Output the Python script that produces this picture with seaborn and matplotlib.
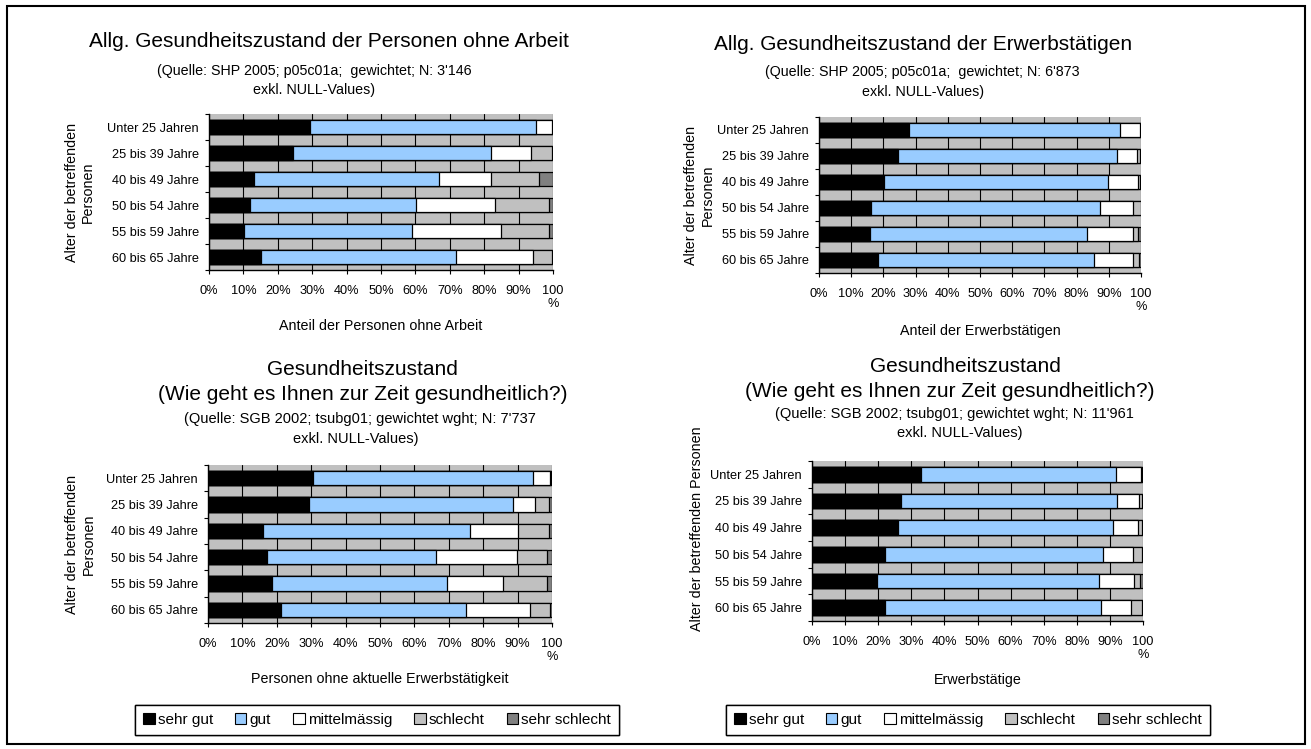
import numpy as np
import pandas as pd
import seaborn as sns
import matplotlib.pyplot as plt
from matplotlib.patches import Patch, Rectangle

altersgruppen = ['Unter 25 Jahren', '25 bis 39 Jahre', '40 bis 49 Jahre',
                 '50 bis 54 Jahre', '55 bis 59 Jahre', '60 bis 65 Jahre']
kategorien = ['sehr gut', 'gut', 'mittelmässig', 'schlecht', 'sehr schlecht']
farben = ['#000000', '#99CCFF', '#FFFFFF', '#C0C0C0', '#808080']

# Anteile in % je Altersgruppe (sehr gut, gut, mittelmässig, schlecht, sehr schlecht)
shp_ohne_arbeit = [
    [29.4, 65.7, 4.7, 0.2, 0.0],
    [24.4, 57.6, 11.5, 6.3, 0.2],
    [13.1, 53.7, 15.3, 13.8, 4.1],
    [11.8, 48.4, 22.8, 15.7, 1.3],
    [10.2, 48.8, 25.8, 14.0, 1.2],
    [15.1, 56.6, 22.6, 5.5, 0.2],
]
shp_erwerbstaetige = [
    [27.8, 65.8, 6.2, 0.2, 0.0],
    [24.5, 68.1, 6.2, 0.8, 0.4],
    [20.1, 69.8, 9.2, 0.7, 0.2],
    [16.3, 71.1, 10.1, 2.4, 0.1],
    [15.9, 67.3, 14.4, 1.4, 1.0],
    [18.3, 67.1, 12.0, 2.1, 0.5],
]
sgb_ohne_erwerb = [
    [30.5, 63.9, 4.9, 0.4, 0.3],
    [29.3, 59.3, 6.5, 4.0, 0.9],
    [16.0, 60.1, 13.9, 9.2, 0.8],
    [17.2, 49.0, 23.6, 8.7, 1.5],
    [18.7, 50.7, 16.4, 12.7, 1.5],
    [21.3, 53.7, 18.7, 5.6, 0.7],
]
sgb_erwerbstaetige = [
    [32.8, 58.9, 7.8, 0.3, 0.2],
    [26.9, 65.3, 6.7, 0.8, 0.3],
    [26.1, 64.8, 7.7, 1.1, 0.3],
    [22.2, 65.6, 9.1, 2.9, 0.2],
    [19.6, 67.2, 10.4, 1.8, 1.0],
    [22.2, 65.0, 9.3, 3.1, 0.4],
]
x_ticks = [0, 10, 20, 30, 40, 50, 60, 70, 80, 90, 100]
x_ticklabels = ['0%', '10%', '20%', '30%', '40%', '50%', '60%', '70%', '80%', '90%', '100\n%']

sns.set_theme(style='white')
plt.rcParams['font.family'] = ['Liberation Sans', 'DejaVu Sans']

W, H = 1311, 749
fig = plt.figure(figsize=(W / 100, H / 100), dpi=100)


def px_rect(l, t, r, b):
    return [l / W, 1 - b / H, (r - l) / W, (b - t) / H]


def fig_text(x, y, s, size):
    fig.text(x / W, 1 - y / H, s, ha='center', va='baseline', fontsize=size, color='black')


def panel(rect, werte, xlabel, ylabel, ylab_xy, xlab_y):
    ax = fig.add_axes(px_rect(*rect))
    df = pd.DataFrame(werte, index=altersgruppen, columns=kategorien)
    kum = df.cumsum(axis=1)
    # gestapelt: kumulierte Summen von hinten nach vorne überlagern
    for kat, farbe in zip(reversed(kategorien), reversed(farben)):
        d = pd.DataFrame({'Alter': altersgruppen, 'Anteil': kum[kat].values})
        sns.barplot(data=d, x='Anteil', y='Alter', orient='h', color=farbe, saturation=1,
                    edgecolor='black', linewidth=0.9, width=0.55, errorbar=None, ax=ax)
    ax.set_facecolor('#C0C0C0')
    ax.set_xlim(0, 100)
    ax.set_ylim(5.5, -0.5)
    ax.set_xticks(x_ticks)
    ax.set_xticklabels(x_ticklabels)
    ax.set_yticks(range(len(altersgruppen)))
    ax.set_yticklabels(altersgruppen)
    ax.set_yticks(np.arange(-0.5, 6, 1), minor=True)
    ax.grid(axis='x', color='black', linewidth=0.8)
    ax.grid(axis='y', visible=False)
    ax.set_axisbelow(True)
    for s in ['top', 'right']:
        ax.spines[s].set_visible(False)
    for s in ['left', 'bottom']:
        ax.spines[s].set_color('black')
        ax.spines[s].set_linewidth(1.0)
    ax.tick_params(axis='x', which='major', bottom=True, direction='out', length=3, width=0.8,
                   color='black', labelsize=9.2, pad=7.5, labelcolor='black')
    ax.tick_params(axis='y', which='major', left=True, length=0, pad=7.2, labelsize=9.2,
                   labelcolor='black')
    ax.tick_params(axis='y', which='minor', left=True, direction='out', length=3, width=0.8,
                   color='black')
    ax.set_xlabel(xlabel, fontsize=10.3, color='black')
    ax.xaxis.set_label_coords(0.5, xlab_y)
    ax.xaxis.label.set_va('baseline')
    ax.set_ylabel(ylabel, fontsize=10.3, color='black', linespacing=1.25)
    ax.yaxis.set_label_coords(*ylab_xy)
    ax.yaxis.label.set_va('center')
    return ax


panel((209, 114, 553, 270), shp_ohne_arbeit, 'Anteil der Personen ohne Arbeit',
      'Alter der betreffenden\nPersonen', (-0.375, 0.5), -60 / 156)
panel((819, 117, 1141, 273), shp_erwerbstaetige, 'Anteil der Erwerbstätigen',
      'Alter der betreffenden\nPersonen', (-0.370, 0.5), -62 / 156)
panel((208, 465, 552, 623), sgb_ohne_erwerb, 'Personen ohne aktuelle Erwerbstätigkeit',
      'Alter der betreffenden\nPersonen', (-0.372, 0.5), -60 / 158)
panel((812, 461, 1143, 621), sgb_erwerbstaetige, 'Erwerbstätige',
      'Alter der betreffenden Personen', (-0.347, 0.58), -63 / 160)

# Titel
fig_text(329, 47, 'Allg. Gesundheitszustand der Personen ohne Arbeit', 15)
fig_text(314, 75, "(Quelle: SHP 2005; p05c01a;  gewichtet; N: 3'146", 10.3)
fig_text(314, 94, 'exkl. NULL-Values)', 10.3)

fig_text(923, 50, 'Allg. Gesundheitszustand der Erwerbstätigen', 15)
fig_text(922, 76, "(Quelle: SHP 2005; p05c01a;  gewichtet; N: 6'873", 10.3)
fig_text(923, 96, 'exkl. NULL-Values)', 10.3)

fig_text(362, 375, 'Gesundheitszustand', 15)
fig_text(363, 400, '(Wie geht es Ihnen zur Zeit gesundheitlich?)', 15)
fig_text(360, 423, "(Quelle: SGB 2002; tsubg01; gewichtet wght; N: 7'737", 10.5)
fig_text(356, 443, 'exkl. NULL-Values)', 10.5)

fig_text(965, 372, 'Gesundheitszustand', 15)
fig_text(950, 397, '(Wie geht es Ihnen zur Zeit gesundheitlich?)', 15)
fig_text(954, 418, "(Quelle: SGB 2002; tsubg01; gewichtet wght; N: 11'961", 10.5)
fig_text(960, 437, 'exkl. NULL-Values)', 10.5)

# Legenden
handles = [Patch(facecolor=f, edgecolor='black', linewidth=0.8) for f in farben]
for cx in [377, 968]:
    leg = fig.legend(handles, kategorien, loc='center', bbox_to_anchor=(cx / W, 1 - 720 / H),
                     ncol=5, fontsize=11, frameon=True, fancybox=False, framealpha=1,
                     edgecolor='black', handlelength=0.75, handleheight=0.75, handletextpad=0.2,
                     columnspacing=1.45, borderpad=0.5)
    leg.get_frame().set_linewidth(1.0)
    for t in leg.get_texts():
        t.set_color('black')
    fig.add_artist(leg)

# Rahmen um alles
fig.patches.append(Rectangle((7 / W, 1 - 744 / H), 1298 / W, 738 / H, transform=fig.transFigure,
                             fill=False, edgecolor='black', linewidth=1.5))

fig.savefig('out.png', dpi=100)
